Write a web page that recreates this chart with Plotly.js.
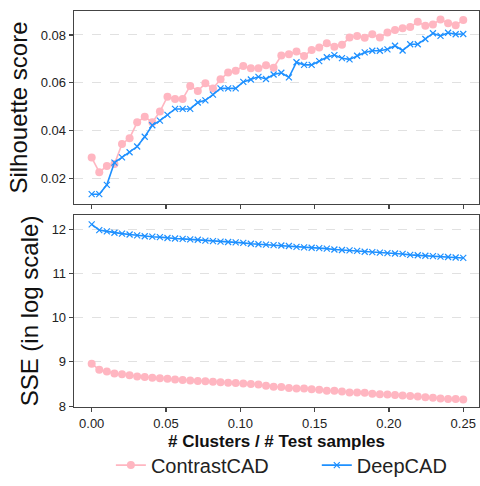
<!DOCTYPE html>
<html>
<head>
<meta charset="utf-8">
<script src="https://cdn.plot.ly/plotly-3.0.1.min.js"></script>
<style>html,body{margin:0;padding:0;background:#fff;}#chart{width:480px;height:486px;}</style>
</head>
<body>
<div id="chart"></div>
<script>
// x: ratio of # clusters to # test samples
var ratio = [0, 0.0051, 0.0102, 0.0153, 0.0204, 0.0255, 0.0306, 0.0357, 0.0408, 0.0459,
  0.0510, 0.0561, 0.0612, 0.0663, 0.0714, 0.0765, 0.0816, 0.0867, 0.0918, 0.0969,
  0.1020, 0.1071, 0.1122, 0.1173, 0.1224, 0.1276, 0.1327, 0.1378, 0.1429, 0.1480,
  0.1531, 0.1582, 0.1633, 0.1684, 0.1735, 0.1786, 0.1837, 0.1888, 0.1939, 0.1990,
  0.2041, 0.2092, 0.2143, 0.2194, 0.2245, 0.2296, 0.2347, 0.2398, 0.2449, 0.2500];

var silContrast = [0.0288, 0.0227, 0.0253, 0.0261, 0.0345, 0.0369, 0.0435, 0.0458, 0.0435, 0.0480,
  0.0542, 0.0533, 0.0533, 0.0587, 0.0566, 0.0598, 0.0576, 0.0615, 0.0643, 0.0651,
  0.0670, 0.0661, 0.0661, 0.0673, 0.0663, 0.0714, 0.0719, 0.0731, 0.0712, 0.0737,
  0.0748, 0.0765, 0.0751, 0.0759, 0.0789, 0.0796, 0.0788, 0.0803, 0.0789, 0.0810,
  0.0821, 0.0828, 0.0833, 0.0855, 0.0838, 0.0844, 0.0865, 0.0849, 0.0841, 0.0862];

var silDeep = [0.0135, 0.0135, 0.0174, 0.0267, 0.0289, 0.0310, 0.0334, 0.0375, 0.0423, 0.0442,
  0.0466, 0.0491, 0.0491, 0.0491, 0.0518, 0.0527, 0.0551, 0.0577, 0.0577, 0.0577,
  0.0604, 0.0614, 0.0625, 0.0616, 0.0635, 0.0642, 0.0623, 0.0686, 0.0675, 0.0675,
  0.0691, 0.0707, 0.0716, 0.0703, 0.0698, 0.0713, 0.0727, 0.0734, 0.0734, 0.0740,
  0.0755, 0.0735, 0.0761, 0.0761, 0.0783, 0.0807, 0.0796, 0.0809, 0.0803, 0.0804];

var sseContrast = [8.96, 8.82, 8.78, 8.74, 8.72, 8.70, 8.67, 8.66, 8.64, 8.63,
  8.62, 8.60, 8.59, 8.58, 8.57, 8.56, 8.55, 8.54, 8.53, 8.52,
  8.51, 8.50, 8.49, 8.46, 8.44, 8.43, 8.41, 8.40, 8.40, 8.38,
  8.37, 8.35, 8.35, 8.33, 8.31, 8.31, 8.30, 8.28, 8.27, 8.26,
  8.25, 8.24, 8.23, 8.22, 8.20, 8.19, 8.17, 8.16, 8.16, 8.15];

var sseDeep = [12.11, 11.98, 11.95, 11.92, 11.90, 11.88, 11.86, 11.84, 11.83, 11.82,
  11.80, 11.79, 11.78, 11.77, 11.76, 11.74, 11.73, 11.72, 11.71, 11.70,
  11.69, 11.67, 11.66, 11.65, 11.64, 11.63, 11.62, 11.60, 11.59, 11.58,
  11.57, 11.56, 11.54, 11.53, 11.52, 11.51, 11.49, 11.48, 11.47, 11.46,
  11.45, 11.44, 11.42, 11.41, 11.40, 11.39, 11.38, 11.37, 11.36, 11.35];

var seriesNames = ['ContrastCAD', 'DeepCAD'];
var xTitle = '# Clusters / # Test samples';
var xTicks = [0, 0.05, 0.10, 0.15, 0.20, 0.25];
var xTickText = ['0.00', '0.05', '0.10', '0.15', '0.20', '0.25'];
var silTicks = [0.02, 0.04, 0.06, 0.08];
var sseTicks = [8, 9, 10, 11, 12];

var pink = '#FFB6C1', blue = '#1E90FF';

var pinkStyle = {mode: 'lines+markers', line: {color: pink, width: 1.6},
  marker: {symbol: 'circle', size: 8, color: pink}};
var blueStyle = {mode: 'lines+markers', line: {color: blue, width: 1.6},
  marker: {symbol: 'x-thin', size: 6, color: blue, line: {color: blue, width: 1.2}}};

var traces = [
  Object.assign({x: ratio, y: silContrast, name: seriesNames[0], xaxis: 'x', yaxis: 'y', legendgroup: 'a', legend: 'legend'}, pinkStyle),
  Object.assign({x: ratio, y: silDeep, name: seriesNames[1], xaxis: 'x', yaxis: 'y', legendgroup: 'b', legend: 'legend2'}, blueStyle),
  Object.assign({x: ratio, y: sseContrast, name: seriesNames[0], xaxis: 'x2', yaxis: 'y2', legendgroup: 'a', showlegend: false}, pinkStyle),
  Object.assign({x: ratio, y: sseDeep, name: seriesNames[1], xaxis: 'x2', yaxis: 'y2', legendgroup: 'b', showlegend: false}, blueStyle)
];

var axisCommon = {showline: true, linecolor: '#444', linewidth: 1.3, mirror: true,
  ticks: 'outside', ticklen: 4, tickcolor: '#444', tickwidth: 1.2,
  zeroline: false, tickfont: {family: 'Arial, Liberation Sans, sans-serif', size: 13, color: '#222'}};

var legendCommon = {orientation: 'h', xref: 'container', yref: 'container', xanchor: 'left',
  y: 0.043, yanchor: 'middle', font: {size: 20, color: '#222'}, bgcolor: 'rgba(0,0,0,0)'};

var layout = {
  width: 480, height: 486,
  margin: {l: 74, r: 1, t: 11, b: 79, autoexpand: false},
  paper_bgcolor: '#fff', plot_bgcolor: '#fff',
  font: {family: 'Arial, Liberation Sans, sans-serif', color: '#111'},
  showlegend: true,
  legend: Object.assign({}, legendCommon, {x: 0.231}),
  legend2: Object.assign({}, legendCommon, {x: 0.66}),
  annotations: [{text: '<b>' + xTitle + '</b>', xref: 'paper', yref: 'paper', x: 0.5, y: -0.088,
    xanchor: 'center', yanchor: 'middle', showarrow: false, font: {size: 17, color: '#111'}}],
  xaxis: Object.assign({}, axisCommon, {domain: [0, 1], anchor: 'y', range: [-0.0119, 0.2606],
    tickvals: xTicks, ticktext: xTickText, showticklabels: false, showgrid: false}),
  xaxis2: Object.assign({}, axisCommon, {domain: [0, 1], anchor: 'y2', range: [-0.0119, 0.2606], matches: 'x',
    tickvals: xTicks, ticktext: xTickText, showgrid: false}),
  yaxis: Object.assign({}, axisCommon, {domain: [0.5126, 1], anchor: 'x', range: [0.0094, 0.0900],
    tickvals: silTicks, ticktext: ['0.02', '0.04', '0.06', '0.08'],
    showgrid: true, gridcolor: '#d9d9d9', griddash: 'dash', gridwidth: 0.8,
    title: {text: 'Silhouette score', font: {size: 24, color: '#111'}, standoff: 6}}),
  yaxis2: Object.assign({}, axisCommon, {domain: [0, 0.4848], anchor: 'x2', range: [7.98, 12.32],
    tickvals: sseTicks, ticktext: ['8', '9', '10', '11', '12'],
    showgrid: true, gridcolor: '#d9d9d9', griddash: 'dash', gridwidth: 0.8,
    title: {text: 'SSE (in log scale)', font: {size: 24, color: '#111'}, standoff: 6}})
};

Plotly.newPlot('chart', traces, layout, {displayModeBar: false, staticPlot: true});
</script>
</body>
</html>
